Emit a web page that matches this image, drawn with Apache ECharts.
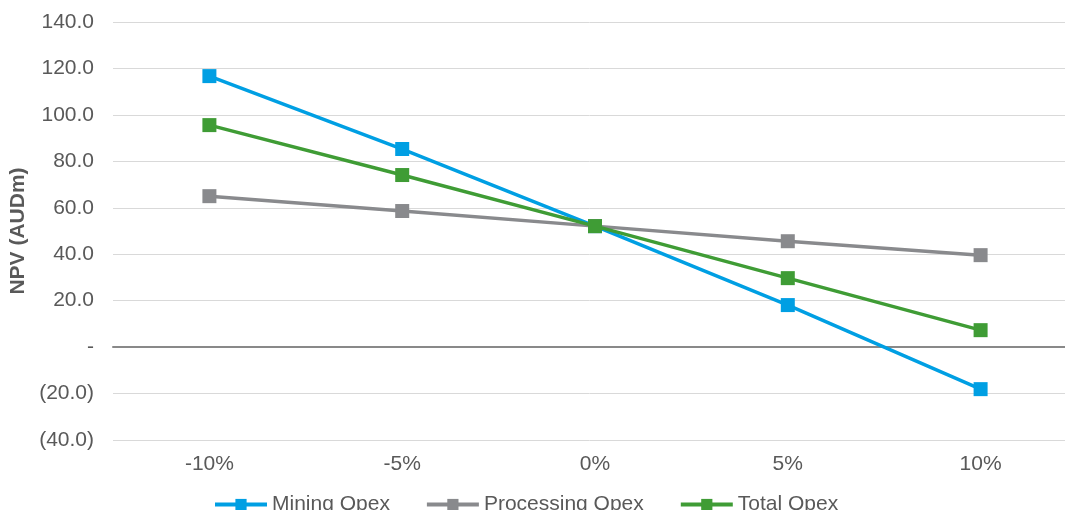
<!DOCTYPE html>
<html>
<head>
<meta charset="utf-8">
<script src="https://cdn.jsdelivr.net/npm/echarts@6/dist/echarts.min.js"></script>
<style>
  html, body { margin: 0; padding: 0; background: #fff; }
  #chart { width: 1065px; height: 510px; }
</style>
</head>
<body>
<div id="chart"></div>
<script>
var categories = ['-10%', '-5%', '0%', '5%', '10%'];
var miningOpex = [116.7, 85.3, 52.1, 18.1, -18.1];
var processingOpex = [65.0, 58.6, 52.1, 45.6, 39.6];
var totalOpex = [95.6, 74.1, 52.1, 29.7, 7.3];

var myChart = echarts.init(document.getElementById('chart'));

function fmt(v) {
    if (v === 0) return '-';
    if (v < 0) return '(' + (-v).toFixed(1) + ')';
    return v.toFixed(1);
}

function lineSeries(name, color, data) {
    return {
        name: name,
        type: 'line',
        data: data,
        symbol: 'rect',
        symbolSize: 14,
        color: color,
        lineStyle: { width: 3.5, color: color },
        itemStyle: { color: color },
        z: 3
    };
}

var option = {
    animation: false,
    textStyle: { fontFamily: 'Liberation Sans, Arial, sans-serif' },
    grid: { left: 113, top: 22, width: 964, height: 418, containLabel: false, outerBoundsMode: 'none' },
    legend: {
        top: 489,
        left: 208,
        itemWidth: 52,
        itemHeight: 14,
        itemGap: 35,
        lineStyle: { width: 4 },
        textStyle: { fontSize: 21, color: '#595959' },
        data: ['Mining Opex', 'Processing Opex', 'Total Opex']
    },
    xAxis: {
        type: 'category',
        data: categories,
        axisTick: { show: false },
        axisLine: { onZero: true, lineStyle: { color: '#898989', width: 2 } },
        axisLabel: { position: 'bottom', fontSize: 21, color: '#595959', margin: 14 },
        splitLine: { show: false }
    },
    yAxis: {
        type: 'value',
        min: -40,
        max: 140,
        interval: 20,
        name: 'NPV (AUDm)',
        nameLocation: 'middle',
        nameGap: 84,
        nameTextStyle: { fontSize: 21, fontWeight: 'bold', color: '#595959' },
        axisLine: { show: false },
        axisTick: { show: false },
        axisLabel: { fontSize: 21, color: '#595959', margin: 19, formatter: fmt },
        splitLine: { lineStyle: { color: '#d9d9d9', width: 1 } }
    },
    series: [
        lineSeries('Mining Opex', '#009fe3', miningOpex),
        lineSeries('Processing Opex', '#898a8d', processingOpex),
        lineSeries('Total Opex', '#3f9c35', totalOpex)
    ]
};

myChart.setOption(option);
</script>
</body>
</html>
